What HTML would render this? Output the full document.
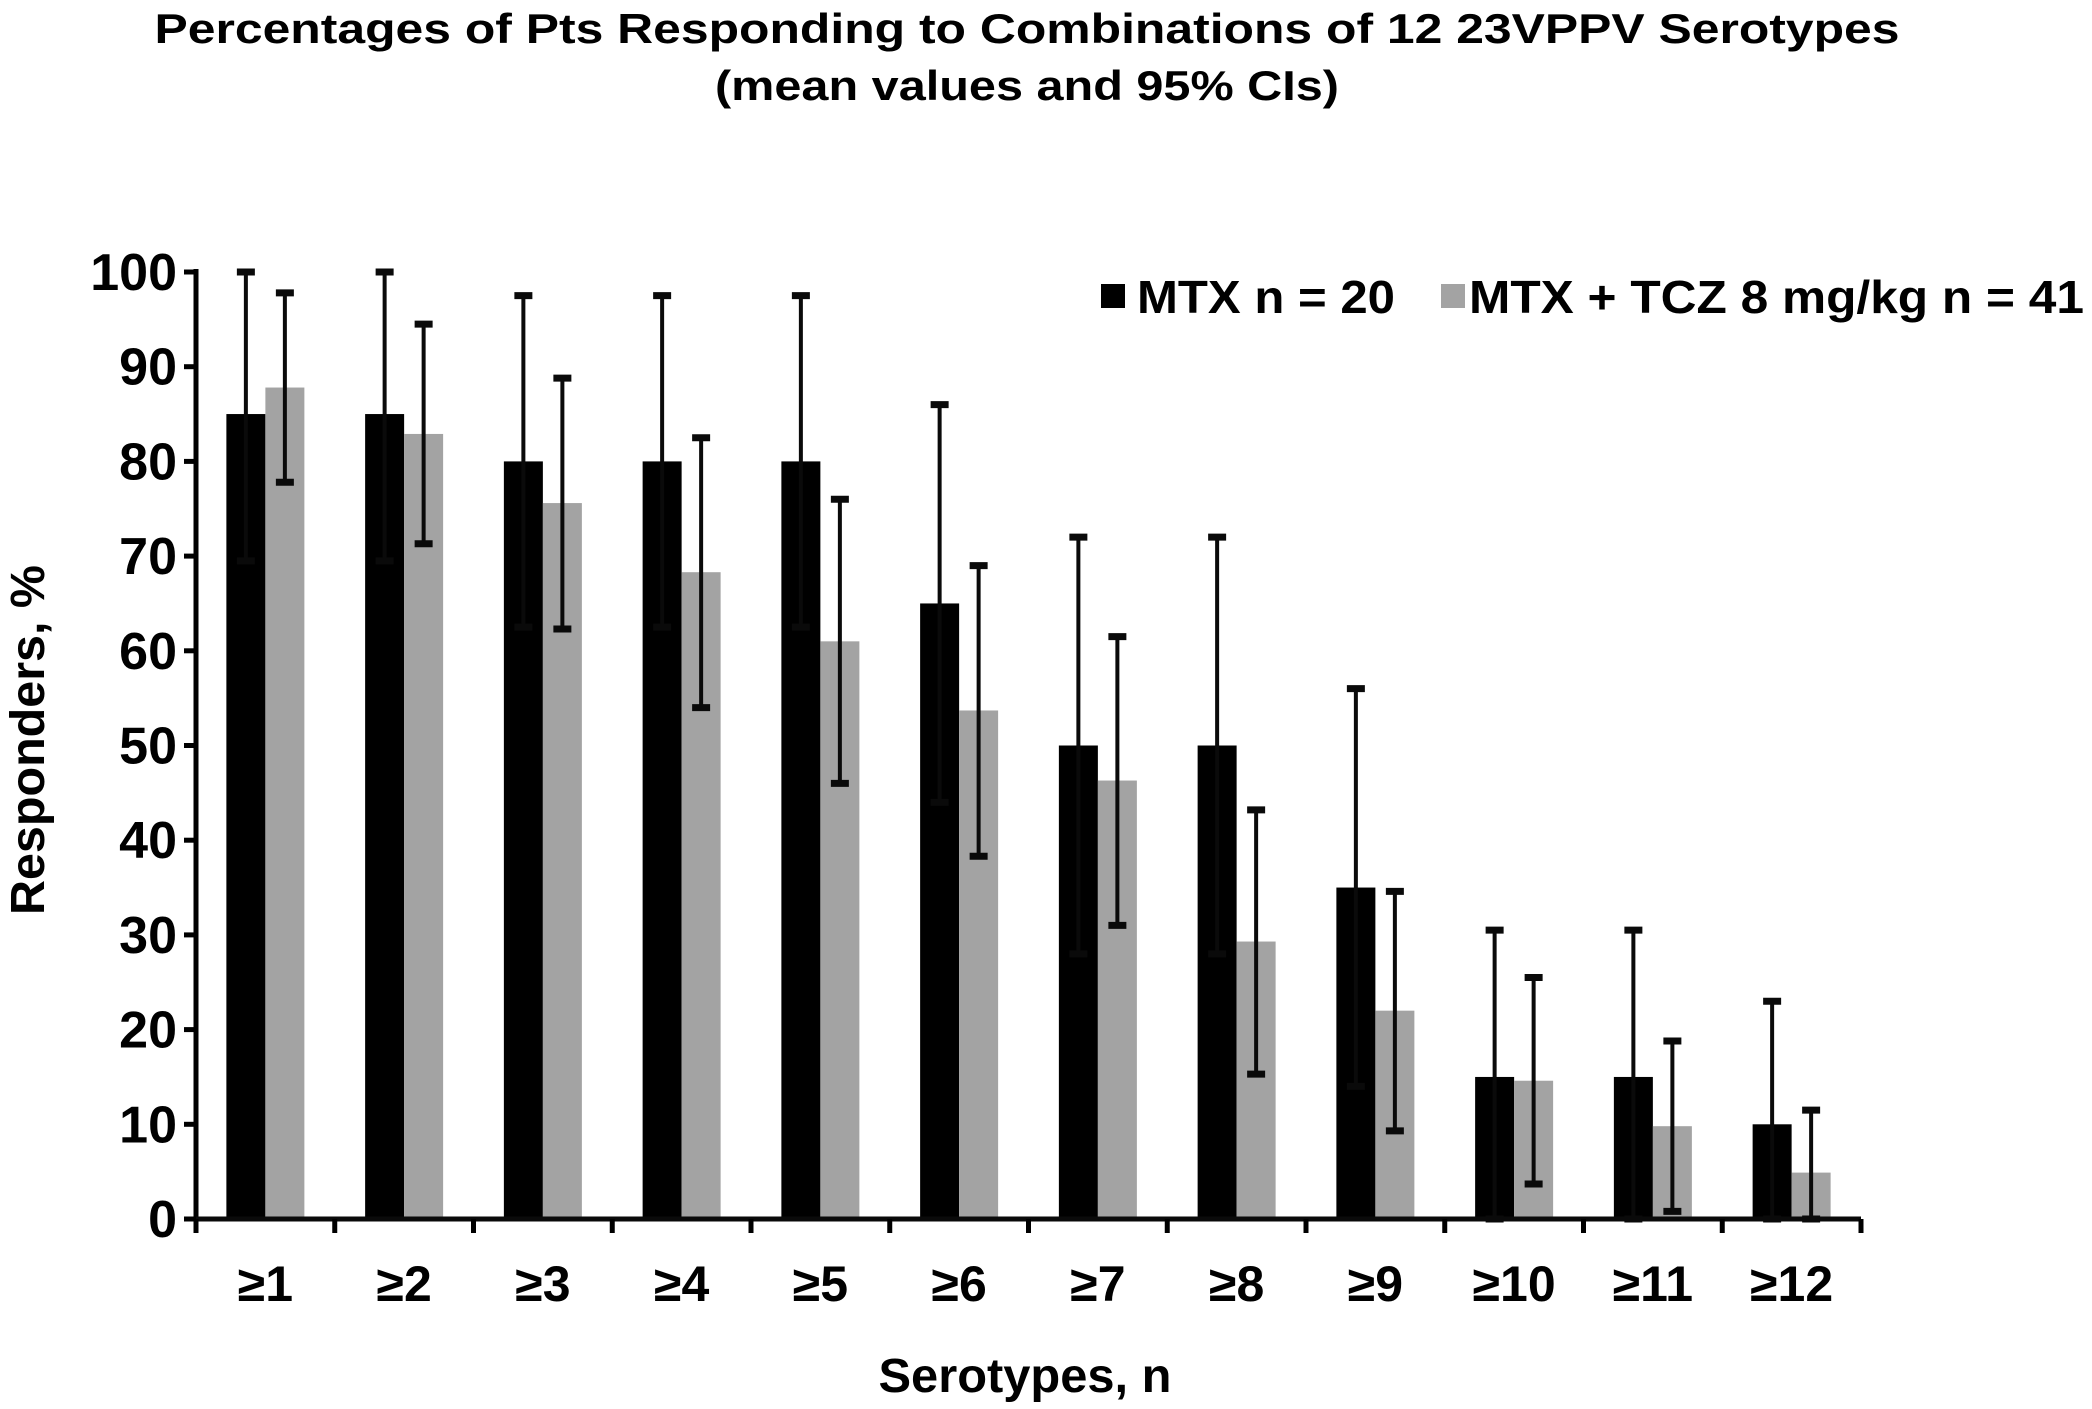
<!DOCTYPE html>
<html><head><meta charset="utf-8"><style>
html,body{margin:0;padding:0;background:#fff;}
svg{display:block;font-family:"Liberation Sans",Arial,sans-serif;font-weight:bold;}
</style></head><body>
<svg id="chart" width="2092" height="1409" viewBox="0 0 2092 1409" xmlns="http://www.w3.org/2000/svg">
<text x="1027" y="43" font-size="42" text-anchor="middle" textLength="1745" lengthAdjust="spacingAndGlyphs">Percentages of Pts Responding to Combinations of 12 23VPPV Serotypes</text>
<text x="1027" y="100" font-size="42" text-anchor="middle" textLength="624" lengthAdjust="spacingAndGlyphs">(mean values and 95% CIs)</text>
<text transform="translate(44,740) rotate(-90)" font-size="48" text-anchor="middle" textLength="350" lengthAdjust="spacingAndGlyphs">Responders, %</text>
<text x="1025" y="1392" font-size="48" text-anchor="middle" textLength="293" lengthAdjust="spacingAndGlyphs">Serotypes, n</text>
<g>
<rect x="1101" y="284" width="24" height="24" fill="#000"/>
<text x="1137" y="313" font-size="46" textLength="258" lengthAdjust="spacingAndGlyphs">MTX n = 20</text>
<rect x="1441" y="284" width="24" height="24" fill="#a3a3a3"/>
<text x="1469" y="313" font-size="46" textLength="615" lengthAdjust="spacingAndGlyphs">MTX + TCZ 8 mg/kg  n = 41</text>
</g>
<g id="plot"></g>
</svg>
<script>
const categories = ["≥1","≥2","≥3","≥4","≥5","≥6","≥7","≥8","≥9","≥10","≥11","≥12"];
const mtxValues = [85,85,80,80,80,65,50,50,35,15,15,10];
const mtxUpper = [100,100,97.5,97.5,97.5,86,72,72,56,30.5,30.5,23];
const mtxLower = [69.5,69.5,62.5,62.5,62.5,44,28,28,14,0,0,0];
const tczValues = [87.8,82.9,75.6,68.3,61,53.7,46.3,29.3,22,14.6,9.8,4.9];
const tczUpper = [97.8,94.5,88.8,82.5,76,69,61.5,43.2,34.6,25.5,18.8,11.5];
const tczLower = [77.8,71.3,62.3,54,46,38.3,31,15.3,9.3,3.7,0.8,0];
const yTicks = [0,10,20,30,40,50,60,70,80,90,100];

const NS = "http://www.w3.org/2000/svg";
const plot = document.getElementById("plot");
const x0 = 196, x1 = 1861, yTop = 272, yBot = 1219;
const groupW = (x1 - x0) / categories.length;
const barW = 39;
function y(v){ return yBot - (v/100)*(yBot - yTop); }
function gx(i){ return x0 + groupW*i + groupW/2; }
function mk(tag, attrs){ const e = document.createElementNS(NS, tag); for (const k in attrs) e.setAttribute(k, attrs[k]); plot.appendChild(e); return e; }

function errBar(cx, lo, hi, name){
  const g = document.createElementNS(NS,"g");
  
  
  const parts = [[cx,y(hi),cx,y(lo)],[cx-9,y(hi),cx+9,y(hi)],[cx-9,y(lo),cx+9,y(lo)]];
  parts.forEach(p=>{ const l=document.createElementNS(NS,"line"); l.setAttribute("x1",p[0]);l.setAttribute("y1",p[1]);l.setAttribute("x2",p[2]);l.setAttribute("y2",p[3]);l.setAttribute("stroke","#0a0a0a");l.setAttribute("stroke-width",p[0]===p[2]?4:7);g.appendChild(l);});
  plot.appendChild(g);
}

categories.forEach((c,i)=>{
  const cx = gx(i);
  const b1 = mk("rect",{x:cx-barW, y:y(mtxValues[i]), width:barW, height:yBot-y(mtxValues[i]), fill:"#000"});
  
  
  const b2 = mk("rect",{x:cx, y:y(tczValues[i]), width:barW, height:yBot-y(tczValues[i]), fill:"#a3a3a3"});
  
  
  errBar(cx-barW/2, mtxLower[i], mtxUpper[i], 'errorbar-mtx-' + (i+1));
  errBar(cx+barW/2, tczLower[i], tczUpper[i], 'errorbar-mtx-tcz-' + (i+1));
  const t = mk("text",{x:cx, y:1301, "font-size":50, "text-anchor":"middle"});
  t.textContent = c;
  
  
});

const ya = mk("line",{x1:x0,y1:yTop-3,x2:x0,y2:yBot+2,stroke:"#000","stroke-width":5});


const xa = mk("line",{x1:x0-2,y1:yBot,x2:x1,y2:yBot,stroke:"#0a0a0a","stroke-width":5});


for (let i=0;i<=categories.length;i++){
  const tx = x0 + groupW*i;
  const tk = mk("line",{x1:tx,y1:yBot,x2:tx,y2:yBot+14,stroke:"#000","stroke-width":5});
  
  
}
yTicks.forEach(v=>{
  const tk = mk("line",{x1:x0-12,y1:y(v),x2:x0,y2:y(v),stroke:"#000","stroke-width":5});
  
  
  const t = mk("text",{x:177, y:y(v)+18, "font-size":52, "text-anchor":"end"});
  t.textContent = v;
  
  
});
</script>
</body></html>
